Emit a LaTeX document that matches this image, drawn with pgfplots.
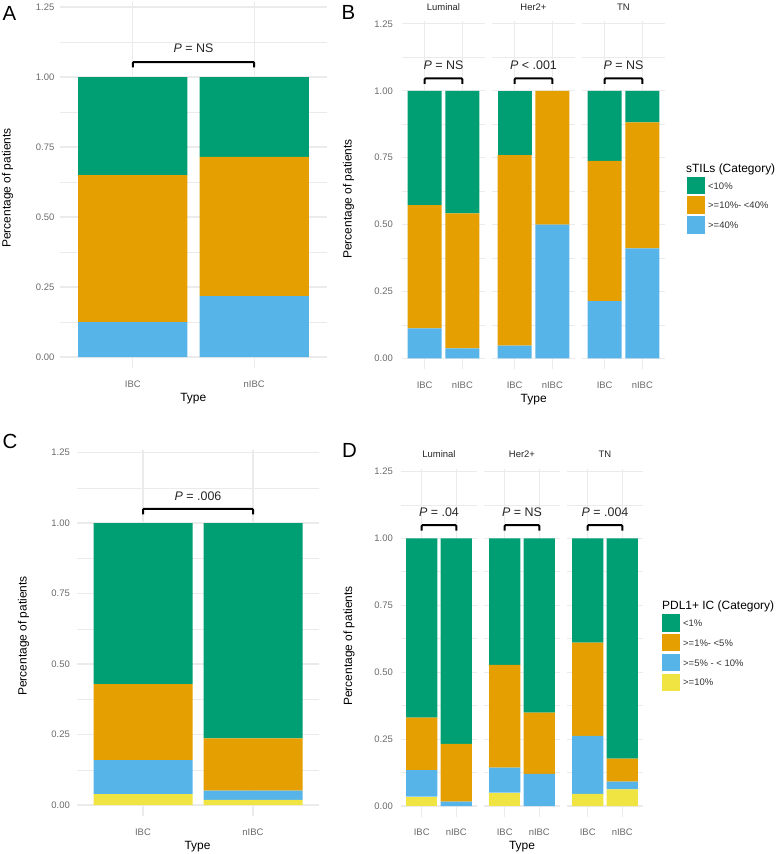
\documentclass[border=0pt]{standalone}
\usepackage{fontspec}
\setmainfont{Liberation Sans}
\usepackage{pgfplots}
\pgfplotsset{compat=1.18}
\definecolor{gggreen}{HTML}{009E73}
\definecolor{ggorange}{HTML}{E69F00}
\definecolor{ggblue}{HTML}{56B4E9}
\definecolor{ggyellow}{HTML}{F0E442}
\definecolor{gggrid}{HTML}{EBEBEB}
\definecolor{ggtick}{HTML}{6A6A6A}
\newcommand{\fs}[1]{\fontsize{#1}{#1}\selectfont}
\pgfplotsset{
  gg/.style={
    scale only axis,
    ybar stacked,
    bar width=0.9,
    xmin=0.4, xmax=2.6,
    ymin=-0.04,
    xtick={1,2}, xticklabels={IBC,nIBC},
    ytick={0,0.25,0.5,0.75,1,1.25},
    minor ytick={0.125,0.375,0.625,0.875,1.125},
    yticklabels={0.00,0.25,0.50,0.75,1.00,1.25},
    xmajorgrids, ymajorgrids, yminorgrids,
    major grid style={draw=gggrid, line width=1.1bp},
    minor grid style={draw=gggrid, line width=0.55bp},
    axis line style={draw=none},
    tick style={draw=none},
    tick label style={font=\fs{9.5}, text=ggtick},
    xticklabel style={anchor=base, inner sep=0pt, yshift=-19bp},
    yticklabel style={anchor=east, inner sep=0pt},
    title style={at={(0.5,1)}, anchor=base, inner sep=0pt, yshift=5bp, font=\fs{9.5}, text=black!85},
    clip=false,
  },
  noy/.style={yticklabels={}},
  gglegend/.style={
    legend style={draw=none, fill=none, inner sep=0pt, row sep=2.3bp,
      font=\fs{9.5}, text=black!80,
      nodes={inner sep=0pt, anchor=base west},
      /tikz/every odd column/.append style={column sep=3.5bp}},
    legend cell align=left,
    reverse legend,
    legend image code/.code={\fill[##1] (0bp,-5.1bp) rectangle (17.5bp,12.4bp);},
  },
}
\newcommand{\bracket}[4]{% y-top, y-leg, y-text, text
  \draw[line width=2bp, rounded corners=0.8bp] (axis cs:1,#2) -- (axis cs:1,#1) -- (axis cs:2,#1) -- (axis cs:2,#2);
  \node[anchor=base, inner sep=0pt, font=\fs{12.5}, text=black!85] at (axis cs:1.5,#3) {\textit{P} #4};
}
\begin{document}
\begin{tikzpicture}
\useasboundingbox (0,0) rectangle (778bp,-854bp);

% ---------------- Panel A ----------------
\begin{axis}[gg, at={(60bp,-368.2bp)}, anchor=south west, width=267bp, height=366.8bp,
  ymax=1.27, yticklabel style={xshift=-5.5bp}]
\addplot[fill=ggblue, draw=none] coordinates {(1,0.125) (2,0.217)};
\addplot[fill=ggorange, draw=none] coordinates {(1,0.525) (2,0.498)};
\addplot[fill=gggreen, draw=none] coordinates {(1,0.350) (2,0.285)};
\bracket{1.053}{1.034}{1.087}{= NS}
\end{axis}

% ---------------- Panel B ----------------
\begin{axis}[gg, at={(402bp,-369bp)}, anchor=south west, width=83bp, height=347.75bp,
  ymax=1.26, yticklabel style={xshift=-9bp}, title={Luminal}]
\addplot[fill=ggblue, draw=none] coordinates {(1,0.112) (2,0.037)};
\addplot[fill=ggorange, draw=none] coordinates {(1,0.461) (2,0.505)};
\addplot[fill=gggreen, draw=none] coordinates {(1,0.427) (2,0.458)};
\bracket{1.046}{1.026}{1.080}{= NS}
\end{axis}
\begin{axis}[gg, noy, at={(492bp,-369bp)}, anchor=south west, width=83bp, height=347.75bp,
  ymax=1.26, title={Her2+}]
\addplot[fill=ggblue, draw=none] coordinates {(1,0.047) (2,0.500)};
\addplot[fill=ggorange, draw=none] coordinates {(1,0.713) (2,0.500)};
\addplot[fill=gggreen, draw=none] coordinates {(1,0.240) (2,0.000)};
\bracket{1.046}{1.026}{1.080}{< .001}
\end{axis}
\begin{axis}[gg, noy, gglegend, at={(582bp,-369bp)}, anchor=south west, width=83bp, height=347.75bp,
  ymax=1.26, title={TN}, legend style={at={(1.265,0.5536)}, anchor=north west}]
\addplot[fill=ggblue, draw=none] coordinates {(1,0.214) (2,0.411)};
\addlegendentry{>=40\%}
\addplot[fill=ggorange, draw=none] coordinates {(1,0.524) (2,0.471)};
\addlegendentry{>=10\%- <40\%}
\addplot[fill=gggreen, draw=none] coordinates {(1,0.262) (2,0.118)};
\addlegendentry{<10\%}
\bracket{1.046}{1.026}{1.080}{= NS}
\end{axis}

% ---------------- Panel C ----------------
\begin{axis}[gg, at={(77bp,-816.3bp)}, anchor=south west, width=242bp, height=366.6bp,
  ymax=1.26, yticklabel style={xshift=-7bp}]
\addplot[fill=ggyellow, draw=none] coordinates {(1,0.039) (2,0.018)};
\addplot[fill=ggblue, draw=none] coordinates {(1,0.120) (2,0.033)};
\addplot[fill=ggorange, draw=none] coordinates {(1,0.270) (2,0.185)};
\addplot[fill=gggreen, draw=none] coordinates {(1,0.571) (2,0.764)};
\bracket{1.050}{1.031}{1.080}{= .006}
\end{axis}

% ---------------- Panel D ----------------
\begin{axis}[gg, at={(401bp,-816.7bp)}, anchor=south west, width=76bp, height=348bp,
  ymax=1.26, yticklabel style={xshift=-8bp}, title={Luminal}]
\addplot[fill=ggyellow, draw=none] coordinates {(1,0.035) (2,0.000)};
\addplot[fill=ggblue, draw=none] coordinates {(1,0.099) (2,0.016)};
\addplot[fill=ggorange, draw=none] coordinates {(1,0.196) (2,0.216)};
\addplot[fill=gggreen, draw=none] coordinates {(1,0.670) (2,0.768)};
\bracket{1.049}{1.029}{1.081}{= .04}
\end{axis}
\begin{axis}[gg, noy, at={(484bp,-816.7bp)}, anchor=south west, width=76bp, height=348bp,
  ymax=1.26, title={Her2+}]
\addplot[fill=ggyellow, draw=none] coordinates {(1,0.050) (2,0.000)};
\addplot[fill=ggblue, draw=none] coordinates {(1,0.093) (2,0.120)};
\addplot[fill=ggorange, draw=none] coordinates {(1,0.384) (2,0.229)};
\addplot[fill=gggreen, draw=none] coordinates {(1,0.473) (2,0.651)};
\bracket{1.049}{1.029}{1.081}{= NS}
\end{axis}
\begin{axis}[gg, noy, gglegend, at={(567bp,-816.7bp)}, anchor=south west, width=76bp, height=348bp,
  ymax=1.26, title={TN}, legend style={at={(1.25,0.5825)}, anchor=north west}]
\addplot[fill=ggyellow, draw=none] coordinates {(1,0.045) (2,0.062)};
\addlegendentry{>=10\%}
\addplot[fill=ggblue, draw=none] coordinates {(1,0.217) (2,0.029)};
\addlegendentry{>=5\% - < 10\%}
\addplot[fill=ggorange, draw=none] coordinates {(1,0.348) (2,0.086)};
\addlegendentry{>=1\%- <5\%}
\addplot[fill=gggreen, draw=none] coordinates {(1,0.390) (2,0.823)};
\addlegendentry{<1\%}
\bracket{1.049}{1.029}{1.081}{= .004}
\end{axis}

% ---------------- Labels ----------------
\begin{scope}[every node/.style={inner sep=0pt}]
\node[anchor=base west, font=\fs{20.5}] at (2.5bp,-20.7bp) {A};
\node[anchor=base west, font=\fs{20.5}] at (341.5bp,-19.3bp) {B};
\node[anchor=base west, font=\fs{20.5}] at (2.5bp,-448.5bp) {C};
\node[anchor=base west, font=\fs{20.5}] at (342bp,-457.3bp) {D};
\node[rotate=90, font=\fs{12}] at (7.5bp,-188bp) {Percentage of patients};
\node[rotate=90, font=\fs{12}] at (348.5bp,-199bp) {Percentage of patients};
\node[rotate=90, font=\fs{12}] at (23.5bp,-636bp) {Percentage of patients};
\node[rotate=90, font=\fs{12}] at (349bp,-646bp) {Percentage of patients};
\node[anchor=base, font=\fs{12}] at (193.3bp,-401.5bp) {Type};
\node[anchor=base, font=\fs{12}] at (533.7bp,-402bp) {Type};
\node[anchor=base, font=\fs{12}] at (197.5bp,-849.3bp) {Type};
\node[anchor=base, font=\fs{12}] at (522bp,-849.6bp) {Type};
\node[anchor=base west, font=\fs{12}] at (686bp,-172bp) {sTILs (Category)};
\node[anchor=base west, font=\fs{12}] at (662bp,-609.6bp) {PDL1+ IC (Category)};
\end{scope}
\end{tikzpicture}
\end{document}
